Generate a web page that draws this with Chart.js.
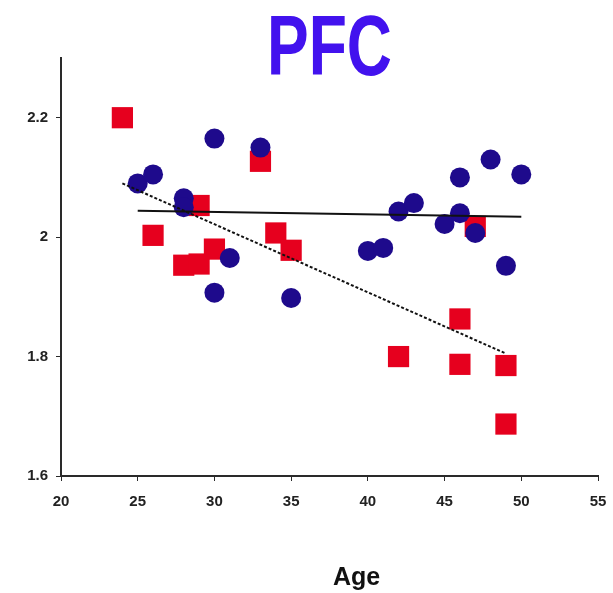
<!DOCTYPE html>
<html>
<head>
<meta charset="utf-8">
<script src="https://cdn.jsdelivr.net/npm/chart.js@4"></script>
<style>
  html, body { margin: 0; padding: 0; background: #fff; }
  #wrap { width: 613px; height: 593px; }
</style>
</head>
<body>
<div id="wrap"><canvas id="chart" width="613" height="593"></canvas></div>
<script>
// values
const blueAge = [25, 26, 28, 28, 30, 30, 31, 33, 35, 40, 41, 42, 43, 45, 46, 46, 47, 48, 49, 50]
const bluePfc = [2.09, 2.105, 2.065, 2.05, 2.165, 1.907, 1.965, 2.15, 1.898, 1.977, 1.982, 2.043, 2.057, 2.022, 2.1, 2.04, 2.007, 2.13, 1.952, 2.105]

const redAge = [24, 26, 28, 29, 29, 30, 33, 34, 35, 42, 46, 46, 47, 49, 49]
const redPfc = [2.2, 2.003, 1.953, 1.955, 2.053, 1.98, 2.127, 2.007, 1.978, 1.8, 1.863, 1.787, 2.018, 1.785, 1.687]

// end points of the two fitted lines
const blueFitAge = [25, 50]
const blueFitPfc = [2.044, 2.034]
const redFitAge = [24, 49]
const redFitPfc = [2.09, 1.805]

const xTicks = [20, 25, 30, 35, 40, 45, 50, 55]
const yTicks = [1.6, 1.8, 2, 2.2]

const title = 'PFC'
const xTitle = 'Age'

const toPoints = (xs, ys) => xs.map((x, i) => ({x, y: ys[i]}))

const BLUE = '#1e0a8c'
const RED = '#e6001e'
const AXIS = '#2a2a2a'

const textPlugin = {
  id: 'pfcText',
  afterDraw(chart) {
    const {ctx, chartArea: area} = chart
    ctx.save()
    // big condensed title over the plot
    ctx.fillStyle = '#4212ee'
    ctx.font = 'bold 86px "Liberation Sans", Arial, sans-serif'
    ctx.textAlign = 'center'
    ctx.textBaseline = 'alphabetic'
    const cx = (area.left + area.right) / 2
    const w = ctx.measureText(title).width
    ctx.translate(cx, 75)
    ctx.scale(125 / w, 1)
    ctx.fillText(title, 0, 0)
    ctx.restore()

    ctx.save()
    ctx.fillStyle = '#111'
    ctx.font = 'bold 25px "Liberation Sans", Arial, sans-serif'
    ctx.textAlign = 'center'
    ctx.textBaseline = 'alphabetic'
    ctx.fillText(xTitle, cx + 27, 585)
    ctx.restore()
  }
}

const tickFont = {family: '"Liberation Sans", Arial, sans-serif', size: 15, weight: 'bold'}

new Chart(document.getElementById('chart'), {
  type: 'scatter',
  data: {
    datasets: [
      {
        label: 'fit young-old',
        type: 'line',
        data: toPoints(redFitAge, redFitPfc),
        borderColor: '#111',
        borderWidth: 2,
        borderDash: [3, 2],
        pointRadius: 0,
        fill: false
      },
      {
        label: 'fit flat',
        type: 'line',
        data: toPoints(blueFitAge, blueFitPfc),
        borderColor: '#111',
        borderWidth: 2,
        pointRadius: 0,
        fill: false
      },
      {
        label: 'blue',
        data: toPoints(blueAge, bluePfc),
        pointStyle: 'circle',
        pointRadius: 10,
        pointHoverRadius: 10,
        backgroundColor: BLUE,
        borderColor: BLUE,
        borderWidth: 0
      },
      {
        label: 'red',
        data: toPoints(redAge, redPfc),
        pointStyle: 'rect',
        pointRadius: 15,
        pointHoverRadius: 15,
        backgroundColor: RED,
        borderColor: RED,
        borderWidth: 0
      }
    ]
  },
  options: {
    responsive: false,
    animation: false,
    events: [],
    layout: {padding: {top: 58, right: 15, left: 0, bottom: 0}},
    plugins: {
      legend: {display: false},
      title: {display: false},
      tooltip: {enabled: false}
    },
    scales: {
      x: {
        type: 'linear',
        min: 20,
        max: 55,
        afterBuildTicks: s => { s.ticks = xTicks.map(v => ({value: v})) },
        afterFit: s => {
          s.height = 117
          s.paddingLeft = 0
          s.paddingRight = 0
        },
        border: {color: AXIS, width: 2},
        grid: {drawOnChartArea: false, drawTicks: true, tickLength: 5, color: AXIS, lineWidth: 1},
        ticks: {color: '#222', font: tickFont, padding: 12, maxRotation: 0}
      },
      y: {
        type: 'linear',
        min: 1.6,
        max: 2.3,
        afterBuildTicks: s => { s.ticks = yTicks.map(v => ({value: v})) },
        afterFit: s => { s.width = 61 },
        border: {color: AXIS, width: 2},
        grid: {drawOnChartArea: false, drawTicks: true, tickLength: 5, color: AXIS, lineWidth: 1},
        ticks: {
          color: '#222',
          font: tickFont,
          padding: 8,
          callback: v => String(+Number(v).toFixed(1))
        }
      }
    }
  },
  plugins: [textPlugin]
})
</script>
</body>
</html>
